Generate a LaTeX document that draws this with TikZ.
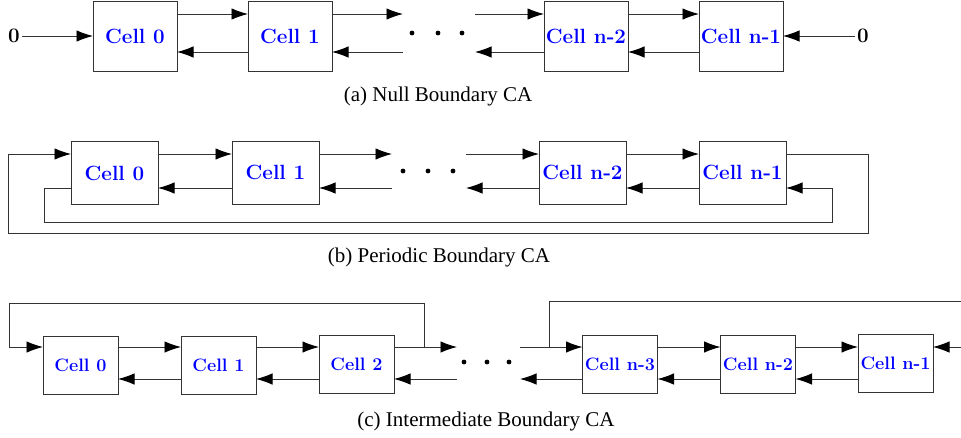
\documentclass[tikz,border=0pt]{standalone}
\usepackage{fontspec}
\newfontfamily\capfont{Liberation Serif}
\usetikzlibrary{arrows.meta}
\tikzset{
  cellbox/.style={draw=black!80, line width=0.9pt, inner sep=0pt, outer sep=0pt,
    text=blue, font=\fontsize{20.6}{22}\selectfont\bfseries},
  cellA/.style={cellbox, minimum width=84pt, minimum height=70pt},
  cellB/.style={cellbox, minimum width=87pt, minimum height=63pt},
  cellC/.style={cellbox, minimum width=75pt, minimum height=58pt,
    font=\fontsize{18}{20}\selectfont\bfseries},
  arr/.style={draw=black!80, line width=0.9pt, -{Latex[length=16.5pt,width=11.5pt,color=black]}},
  zero/.style={inner sep=2.5pt, font=\fontsize{20.6}{22}\selectfont\bfseries},
  dotmark/.style={circle, fill=black, inner sep=0pt, minimum size=4.8pt},
  caption/.style={anchor=base, inner sep=0pt, font=\capfont\fontsize{21}{24}\selectfont}
}
\begin{document}
\begin{tikzpicture}[x=1pt,y=-1pt]
\useasboundingbox (0,0) rectangle (961,437);

% ---------------- (a) Null boundary ----------------
\coordinate (ya1) at (0,14);
\coordinate (ya2) at (0,52);
\node[cellA] (a0) at (135,36) {Cell 0};
\node[cellA] (a1) at (290,36) {Cell 1};
\node[cellA] (a2) at (586,36) {Cell n-2};
\node[cellA] (a3) at (741,36) {Cell n-1};
\node[zero] (z0) at (14,36) {0};
\node[zero] (z1) at (863,36) {0};
\coordinate (da1) at (403,14);
\coordinate (da2) at (403,52);
\coordinate (da3) at (475,14);
\coordinate (da4) at (475,52);
\draw[arr] (z0) -- (a0);
\draw[arr] (z1) -- (a3);
\draw[arr] (a0.east|-ya1) -- (a1.west|-ya1);
\draw[arr] (a1.west|-ya2) -- (a0.east|-ya2);
\draw[arr] (a1.east|-ya1) -- (da1);
\draw[arr] (da2) -- (a1.east|-ya2);
\draw[arr] (da3) -- (a2.west|-ya1);
\draw[arr] (a2.west|-ya2) -- (da4);
\draw[arr] (a2.east|-ya1) -- (a3.west|-ya1);
\draw[arr] (a3.west|-ya2) -- (a2.east|-ya2);
\node[dotmark] (ad1) at (412,33) {};
\node[dotmark] (ad2) at (438,33) {};
\node[dotmark] (ad3) at (462,33) {};
\node[caption] (capa) at (438,101.5) {(a) Null Boundary CA};

% ---------------- (b) Periodic boundary ----------------
\coordinate (yb1) at (0,154);
\coordinate (yb2) at (0,188);
\node[cellB] (b0) at (114.5,173) {Cell 0};
\node[cellB] (b1) at (275.5,172.5) {Cell 1};
\node[cellB] (b2) at (582.5,172.5) {Cell n-2};
\node[cellB] (b3) at (742.5,172.5) {Cell n-1};
\coordinate (db1) at (392,154);
\coordinate (db2) at (392,188);
\coordinate (db3) at (466,154);
\coordinate (db4) at (466,188);
\coordinate (bo1) at (868,233);
\coordinate (bo2) at (8,233);
\coordinate (bi1) at (832,222);
\coordinate (bi2) at (44,222);
\draw[arr] (b0.east|-yb1) -- (b1.west|-yb1);
\draw[arr] (b1.west|-yb2) -- (b0.east|-yb2);
\draw[arr] (b1.east|-yb1) -- (db1);
\draw[arr] (db2) -- (b1.east|-yb2);
\draw[arr] (db3) -- (b2.west|-yb1);
\draw[arr] (b2.west|-yb2) -- (db4);
\draw[arr] (b2.east|-yb1) -- (b3.west|-yb1);
\draw[arr] (b3.west|-yb2) -- (b2.east|-yb2);
\draw[arr] (b3.east|-yb1) -| (bo1) -- (bo2) |- (b0.west|-yb1);
\draw[arr] (b0.west|-yb2) -| (bi2) -- (bi1) |- (b3.east|-yb2);
\node[dotmark] (bd1) at (403,171) {};
\node[dotmark] (bd2) at (428,171) {};
\node[dotmark] (bd3) at (453,171) {};
\node[caption] (capb) at (439,262) {(b) Periodic Boundary CA};

% ---------------- (c) Intermediate boundary ----------------
\coordinate (yc1) at (0,347);
\coordinate (yc2) at (0,379);
\node[cellC] (c0) at (80.5,365) {Cell 0};
\node[cellC] (c1) at (218.5,365) {Cell 1};
\node[cellC] (c2) at (356.5,364.5) {Cell 2};
\node[cellC] (c3) at (620,364.5) {Cell n-3};
\node[cellC] (c4) at (758,364.5) {Cell n-2};
\node[cellC] (c5) at (895.5,363.5) {Cell n-1};
\coordinate (dc1) at (457,347);
\coordinate (dc2) at (457,379);
\coordinate (dc3) at (520,347);
\coordinate (dc4) at (520,379);
\coordinate (cl1) at (424,347);
\coordinate (cl2) at (9,303);
\coordinate (cr1) at (549,347);
\coordinate (cr2) at (980,301);
\draw[arr] (c0.east|-yc1) -- (c1.west|-yc1);
\draw[arr] (c1.west|-yc2) -- (c0.east|-yc2);
\draw[arr] (c1.east|-yc1) -- (c2.west|-yc1);
\draw[arr] (c2.west|-yc2) -- (c1.east|-yc2);
\draw[arr] (c2.east|-yc1) -- (dc1);
\draw[arr] (dc2) -- (c2.east|-yc2);
\draw[arr] (dc3) -- (c3.west|-yc1);
\draw[arr] (c3.west|-yc2) -- (dc4);
\draw[arr] (c3.east|-yc1) -- (c4.west|-yc1);
\draw[arr] (c4.west|-yc2) -- (c3.east|-yc2);
\draw[arr] (c4.east|-yc1) -- (c5.west|-yc1);
\draw[arr] (c5.west|-yc2) -- (c4.east|-yc2);
\draw[arr] (cl1) |- (cl2) |- (c0.west|-yc1);
\draw[arr] (cr1) |- (cr2) |- (c5.east|-yc1);
\node[dotmark] (cd1) at (464,362) {};
\node[dotmark] (cd2) at (487,362) {};
\node[dotmark] (cd3) at (509,362) {};
\node[caption] (capc) at (486,426) {(c) Intermediate Boundary CA};
\end{tikzpicture}
\end{document}
